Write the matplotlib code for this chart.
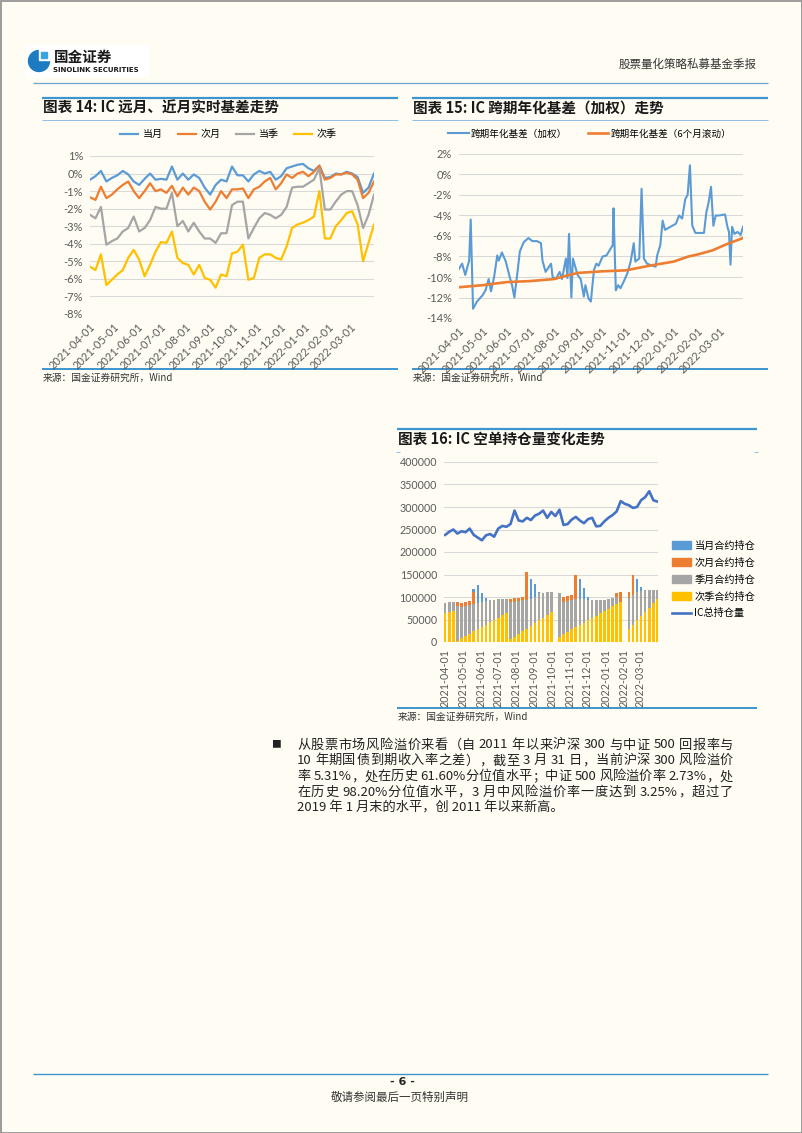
import re

import matplotlib
matplotlib.use('Agg')
import matplotlib.pyplot as plt
import matplotlib.dates as mdates
from matplotlib.patches import Rectangle, Circle, Patch
from matplotlib.lines import Line2D
from matplotlib.ticker import FuncFormatter
import pandas as pd

plt.rcParams['font.family'] = ['Noto Sans CJK SC', 'DejaVu Sans']

W, H = 802, 1133
BG = '#FFFDF3'
BLUE, ORANGE, GRAY, GOLD, DARK_BLUE = '#5B9BD5', '#ED7D31', '#A5A5A5', '#FFC000', '#4472C4'
RULE = '#3D95D0'

# ---- 图表14: weekly samples of the real-time basis (%) ----
basis_dates = pd.date_range('2021-04-01', periods=53, freq='7D')
cur_month = [-0.35, -0.15, 0.15, -0.45, -0.25, -0.1, 0.15, -0.05, -0.45, -0.65,
             -0.3, 0.0, -0.35, -0.3, -0.35, 0.4, -0.35, 0.0, -0.35, -0.05,
             -0.25, -0.8, -1.2, -0.65, -0.35, -0.45, 0.4, -0.1, -0.1, -0.45,
             -0.05, 0.15, 0.0, 0.1, -0.35, -0.15, 0.3, 0.4, 0.5, 0.55,
             0.3, 0.15, 0.45, -0.25, -0.2, 0.0, -0.05, 0.1, 0.0, -0.2,
             -1.1, -0.8, 0.0]
next_month = [-1.35, -1.5, -0.75, -1.4, -1.2, -0.9, -0.65, -0.45, -1.0, -1.4,
              -1.0, -0.55, -1.0, -0.9, -1.1, -0.7, -1.3, -0.8, -1.2, -0.8,
              -1.0, -1.6, -2.05, -1.6, -1.0, -1.4, -0.9, -0.9, -0.85, -1.4,
              -0.9, -0.75, -0.45, -0.25, -0.9, -0.55, -0.05, -0.25, 0.0, 0.1,
              -0.15, 0.1, 0.45, -0.35, -0.25, -0.05, -0.05, 0.05, -0.05, -0.35,
              -1.4, -1.1, -0.45]
cur_quarter = [-2.35, -2.55, -1.9, -4.05, -3.85, -3.7, -3.3, -3.1, -2.45, -3.3,
               -3.1, -2.65, -1.9, -2.0, -2.0, -1.1, -3.0, -2.7, -3.3, -2.8,
               -3.3, -3.7, -3.7, -3.95, -3.4, -3.4, -1.8, -1.6, -1.6, -3.7,
               -3.1, -2.55, -2.25, -2.35, -2.55, -2.35, -1.9, -0.8, -0.75, -0.75,
               -0.55, -0.35, 0.3, -2.05, -2.05, -1.6, -1.2, -1.0, -1.0, -1.8,
               -3.1, -2.35, -1.2]
next_quarter = [-5.3, -5.5, -4.6, -6.35, -6.05, -5.75, -5.5, -4.8, -4.35, -4.9,
                -5.85, -5.2, -4.45, -3.9, -3.95, -3.3, -4.8, -5.1, -5.2, -5.75,
                -5.2, -5.95, -6.05, -6.5, -5.75, -5.85, -4.55, -4.45, -4.05, -6.05,
                -5.95, -4.8, -4.6, -4.6, -4.8, -4.9, -4.15, -3.1, -2.9, -2.8,
                -2.65, -2.45, -1.0, -3.7, -3.7, -3.0, -2.65, -2.25, -2.15, -2.9,
                -5.0, -3.95, -2.9]

# ---- 图表15: annualised calendar basis (%) ----
weighted_dates = ['2021-04-01', '2021-04-05', '2021-04-09', '2021-04-14', '2021-04-16', '2021-04-19',
                  '2021-04-24', '2021-05-01', '2021-05-05', '2021-05-09', '2021-05-12', '2021-05-16',
                  '2021-05-20', '2021-05-22', '2021-05-26', '2021-05-31', '2021-06-05', '2021-06-08',
                  '2021-06-11', '2021-06-15', '2021-06-18', '2021-06-23', '2021-06-29', '2021-07-04',
                  '2021-07-10', '2021-07-15', '2021-07-17', '2021-07-21', '2021-07-28', '2021-07-30',
                  '2021-08-03', '2021-08-08', '2021-08-11', '2021-08-16', '2021-08-18', '2021-08-20',
                  '2021-08-23', '2021-08-25', '2021-08-31', '2021-09-04', '2021-09-08', '2021-09-10',
                  '2021-09-14', '2021-09-17', '2021-09-21', '2021-09-24', '2021-09-27', '2021-10-02',
                  '2021-10-07', '2021-10-11', '2021-10-15', '2021-10-16', '2021-10-19', '2021-10-22',
                  '2021-10-25', '2021-10-30', '2021-11-03', '2021-11-07', '2021-11-11', '2021-11-13',
                  '2021-11-18', '2021-11-21', '2021-11-24', '2021-11-28', '2021-12-05', '2021-12-09',
                  '2021-12-11', '2021-12-15', '2021-12-18', '2021-12-21', '2021-12-28', '2022-01-04',
                  '2022-01-08', '2022-01-12', '2022-01-16', '2022-01-19', '2022-01-22', '2022-01-25',
                  '2022-01-29', '2022-02-05', '2022-02-09', '2022-02-12', '2022-02-15', '2022-02-18',
                  '2022-02-21', '2022-02-24', '2022-02-28', '2022-03-08', '2022-03-11', '2022-03-13',
                  '2022-03-15', '2022-03-17', '2022-03-20', '2022-03-24', '2022-03-28', '2022-03-31']
weighted_basis = [-9.2, -8.7, -9.8, -8.4, -4.4, -13.1,
                  -12.4, -11.8, -11.3, -10.2, -11.4, -10.0,
                  -7.9, -8.4, -7.6, -8.5, -10.0, -10.8,
                  -12.0, -9.5, -7.5, -6.6, -6.2, -6.5,
                  -6.5, -6.7, -8.4, -9.5, -8.7, -10.0,
                  -10.2, -9.5, -10.2, -8.2, -10.1, -5.8,
                  -12.0, -8.2, -9.8, -10.2, -11.9, -10.8,
                  -12.1, -12.4, -9.3, -8.7, -8.9, -8.0,
                  -7.9, -7.4, -6.9, -3.3, -11.3, -10.8,
                  -11.1, -10.3, -9.6, -8.5, -6.7, -8.5,
                  -8.2, -1.4, -8.2, -8.7, -8.9, -9.0,
                  -7.9, -6.9, -4.5, -5.4, -5.1, -4.8,
                  -4.0, -4.3, -2.4, -2.0, 0.9, -5.0,
                  -5.7, -5.7, -5.7, -3.7, -2.7, -1.2,
                  -5.0, -4.0, -4.0, -3.9, -5.1, -5.6,
                  -8.8, -5.1, -5.8, -5.6, -5.9, -5.1]
rolling_dates = ['2021-04-01', '2021-05-01', '2021-06-01', '2021-07-01', '2021-08-01', '2021-08-20',
                 '2021-09-01', '2021-10-01', '2021-11-01', '2021-12-01', '2022-01-01', '2022-01-20',
                 '2022-02-01', '2022-02-20', '2022-03-10', '2022-03-31']
rolling_basis = [-11.0, -10.8, -10.5, -10.4, -10.2, -9.8,
                 -9.6, -9.45, -9.35, -8.9, -8.5, -8.0,
                 -7.8, -7.4, -6.8, -6.2]

# ---- 图表16: weekly open interest of short positions ----
oi_dates = pd.date_range('2021-04-01', periods=53, freq='7D')
oi_cur_month = [70000, 60000, 50000, 40000, 50000, 60000, 70000, 118000, 126000, 110000,
                98000, 60000, 60000, 65000, 70000, 80000, 85000, 85000, 85000, 88000,
                100000, 140000, 128000, 112000, 90000, 85000, 80000, 0, 80000, 85000,
                90000, 95000, 100000, 140000, 120000, 100000, 85000, 60000, 60000, 65000,
                70000, 75000, 85000, 90000, 0, 100000, 100000, 140000, 122000, 108000,
                95000, 80000, 70000]
oi_next_month = [60000, 62000, 64000, 88000, 87000, 89000, 92000, 112000, 30000, 20000,
                 25000, 35000, 45000, 55000, 65000, 78000, 96000, 98000, 97000, 99000,
                 155000, 40000, 50000, 60000, 70000, 80000, 85000, 0, 98000, 100000,
                 102000, 104000, 148000, 40000, 50000, 60000, 30000, 40000, 50000, 60000,
                 70000, 80000, 110000, 111000, 0, 112000, 148000, 50000, 60000, 70000,
                 80000, 85000, 90000]
oi_quarter = [86000, 88000, 90000, 80000, 78000, 80000, 82000, 84000, 86000, 90000,
              92000, 93000, 94000, 95000, 96000, 95000, 88000, 90000, 92000, 93000,
              94000, 96000, 100000, 108000, 110000, 111000, 112000, 0, 108000, 90000,
              92000, 94000, 96000, 96000, 95000, 94000, 93000, 93000, 93000, 94000,
              95000, 97000, 100000, 90000, 0, 98000, 105000, 112000, 114000, 115000,
              116000, 116000, 115000]
oi_next_quarter = [65000, 66000, 68000, 3000, 8000, 13000, 18000, 24000, 29000, 34000,
                   38000, 44000, 49000, 54000, 59000, 64000, 6000, 12000, 18000, 24000,
                   30000, 36000, 42000, 48000, 54000, 60000, 66000, 0, 12000, 17000,
                   22000, 28000, 33000, 38000, 43000, 48000, 53000, 58000, 64000, 69000,
                   74000, 79000, 84000, 89000, 0, 28000, 38000, 48000, 58000, 67000,
                   76000, 86000, 96000]
oi_total = [238000, 245000, 250000, 241000, 246000, 244000, 252000, 238000, 232000, 226000,
            237000, 240000, 234000, 252000, 258000, 256000, 262000, 292000, 270000, 268000,
            276000, 271000, 281000, 285000, 292000, 276000, 289000, 280000, 294000, 260000,
            262000, 272000, 278000, 270000, 264000, 273000, 276000, 257000, 258000, 268000,
            276000, 282000, 290000, 313000, 307000, 304000, 298000, 300000, 315000, 322000,
            335000, 315000, 312000]

month_ticks = pd.date_range('2021-04-01', '2022-03-01', freq='MS')

body_lines = [
    '从股票市场风险溢价来看（自 2011 年以来沪深 300 与中证 500 回报率与',
    '10 年期国债到期收入率之差），截至 3 月 31 日，当前沪深 300 风险溢价',
    '率 5.31%，处在历史 61.60%分位值水平；中证 500 风险溢价率 2.73%，处',
    '在历史 98.20%分位值水平，3 月中风险溢价率一度达到 3.25%，超过了',
    '2019 年 1 月末的水平，创 2011 年以来新高。',
]

fig = plt.figure(figsize=(W / 100, H / 100), dpi=100, facecolor=BG)
bg = fig.add_axes([0, 0, 1, 1])
bg.set_xlim(0, W)
bg.set_ylim(H, 0)
bg.axis('off')
renderer = fig.canvas.get_renderer()


def px_axes(left, top, right, bottom):
    return fig.add_axes([left / W, 1 - bottom / H, (right - left) / W, (bottom - top) / H])


def hline(x0, x1, y, color=RULE, lw=1.2):
    bg.plot([x0, x1], [y, y], color=color, lw=lw, solid_capstyle='butt')


def style_axes(ax, ylim, yticks, fmt, size=8):
    ax.set_facecolor('none')
    for s in ax.spines.values():
        s.set_visible(False)
    ax.set_ylim(*ylim)
    ax.set_yticks(yticks)
    ax.yaxis.set_major_formatter(FuncFormatter(fmt))
    ax.grid(axis='y', color='#D9D9D9', lw=0.8)
    ax.set_axisbelow(True)
    ax.set_xticks(month_ticks)
    ax.xaxis.set_major_formatter(mdates.DateFormatter('%Y-%m-%d'))
    ax.tick_params(length=0, labelsize=size, colors='#595959', pad=5)
    for lab in ax.get_xticklabels() + ax.get_yticklabels():
        lab.set_fontfamily('Lato')


def pct(v, _):
    return f'{v:.0f}%'


def justified(line, x0, x1, y, **kw):
    # lay a line out token by token so that it fills x0..x1 like the justified source text
    tokens = re.findall(r'[A-Za-z0-9.%]+| |.', line)
    words, gaps = [], []
    pending_space = False
    for tok in tokens:
        if tok == ' ':
            pending_space = True
            continue
        words.append(bg.text(0, y, tok, va='center', **kw))
        gaps.append(pending_space)
        pending_space = False
    widths = [t.get_window_extent(renderer).width for t in words]
    probe_a = bg.text(0, y, 'a a', **kw)
    probe_b = bg.text(0, y, 'aa', **kw)
    space_w = probe_a.get_window_extent(renderer).width - probe_b.get_window_extent(renderer).width
    probe_a.remove()
    probe_b.remove()
    natural = sum(widths) + space_w * sum(gaps)
    extra = (x1 - x0 - natural) / max(len(words) - 1, 1)
    x = x0
    for t, w, g in zip(words, widths, gaps):
        if g:
            x += space_w
        t.set_x(x)
        x += w + extra


# page frame and header
bg.add_patch(Rectangle((0.5, 0.5), W - 1, H - 1, fill=False, ec='#8C8C8C', lw=1.2))
bg.add_patch(Rectangle((26, 45), 122, 31, color='white', zorder=1))
bg.add_patch(Circle((39, 61), 10.5, color='#1D7CC1', zorder=2))
bg.add_patch(Rectangle((39, 48), 12, 11.5, color='white', zorder=3))
bg.add_patch(Rectangle((40.5, 51.5), 6, 6, color='#3BA4DE', zorder=4))
bg.text(54, 57, '国金证券', fontsize=10.5, fontweight='bold', color='#1A1A1A', va='center', zorder=5)
bg.text(53, 69.5, 'SINOLINK SECURITIES', fontsize=5, fontweight='bold', color='#1A1A1A',
        va='center', family='DejaVu Sans', zorder=5)
bg.text(757, 64, '股票量化策略私募基金季报', fontsize=8.3, color='#333333', ha='right', va='center')
hline(33, 768, 83, color='#6FA3D2', lw=0.9)

# section frames
for x0, x1 in [(42, 398), (412, 768)]:
    hline(x0, x1, 98, lw=1.6)
    hline(x0, x1, 120, color='#8DBFE3', lw=0.7)
    hline(x0, x1, 369, lw=1.4)
    bg.text(x0 + 1, 378, '来源：国金证券研究所，Wind', fontsize=7, color='#333333', va='center')
hline(397, 757, 429, lw=1.6)
hline(397, 757, 708, lw=1.4)
for xm in (398, 756):
    hline(xm - 2, xm + 2, 452, color='#8DBFE3', lw=0.7)
bg.text(398, 717, '来源：国金证券研究所，Wind', fontsize=7, color='#333333', va='center')

title_kw = dict(fontsize=10.5, fontweight='bold', fontstyle='italic', color='#1A1A1A', va='center')
bg.text(43, 107.5, '图表 14: IC 远月、近月实时基差走势', **title_kw)
bg.text(413, 107.5, '图表 15: IC 跨期年化基差（加权）走势', **title_kw)
bg.text(398, 438.5, '图表 16: IC 空单持仓量变化走势', **title_kw)

# chart 14
ax14 = px_axes(90, 156, 374, 314)
ax14.plot(basis_dates, cur_month, color=BLUE, lw=1.6, label='当月')
ax14.plot(basis_dates, next_month, color=ORANGE, lw=1.6, label='次月')
ax14.plot(basis_dates, cur_quarter, color=GRAY, lw=1.6, label='当季')
ax14.plot(basis_dates, next_quarter, color=GOLD, lw=1.6, label='次季')
ax14.set_xlim(pd.Timestamp('2021-04-01'), pd.Timestamp('2022-03-31'))
style_axes(ax14, (-8, 1), range(-8, 2), pct)
plt.setp(ax14.get_xticklabels(), rotation=45, ha='right', rotation_mode='anchor')
ax14.legend(loc='center', bbox_to_anchor=(228 / W, 1 - 134 / H), bbox_transform=fig.transFigure,
            ncol=4, frameon=False, fontsize=7.2, handlelength=1.85, handletextpad=0.45,
            columnspacing=1.5, borderpad=0)

# chart 15
ax15 = px_axes(459, 154, 743, 318)
ax15.plot(pd.to_datetime(weighted_dates), weighted_basis, color=BLUE, lw=1.5, label='跨期年化基差（加权）')
ax15.plot(pd.to_datetime(rolling_dates), rolling_basis, color=ORANGE, lw=1.9, label='跨期年化基差（6个月滚动）')
ax15.set_xlim(pd.Timestamp('2021-04-01'), pd.Timestamp('2022-03-31'))
style_axes(ax15, (-14, 2), range(-14, 3, 2), pct)
plt.setp(ax15.get_xticklabels(), rotation=45, ha='right', rotation_mode='anchor')
ax15.legend(loc='center', bbox_to_anchor=(590 / W, 1 - 134 / H), bbox_transform=fig.transFigure,
            ncol=2, frameon=False, fontsize=6.9, handlelength=2.1, handletextpad=0.25,
            columnspacing=2.2, borderpad=0)

# chart 16
ax16 = px_axes(444, 462, 658, 642)
bar_w = 4.5
ax16.bar(oi_dates, oi_cur_month, width=bar_w, color=BLUE, zorder=2)
ax16.bar(oi_dates, oi_next_month, width=bar_w, color=ORANGE, zorder=3)
ax16.bar(oi_dates, oi_quarter, width=bar_w, color=GRAY, zorder=4)
ax16.bar(oi_dates, oi_next_quarter, width=bar_w, color=GOLD, zorder=5)
ax16.plot(oi_dates, oi_total, color=DARK_BLUE, lw=1.9, zorder=6)
ax16.set_xlim(pd.Timestamp('2021-03-30'), pd.Timestamp('2022-04-01'))
style_axes(ax16, (0, 400000), range(0, 400001, 50000), lambda v, _: f'{v:.0f}', size=7.7)
plt.setp(ax16.get_xticklabels(), rotation=90)
handles = [Patch(color=BLUE, label='当月合约持仓'), Patch(color=ORANGE, label='次月合约持仓'),
           Patch(color=GRAY, label='季月合约持仓'), Patch(color=GOLD, label='次季合约持仓'),
           Line2D([], [], color=DARK_BLUE, lw=1.9, label='IC总持仓量')]
ax16.legend(handles=handles, loc='center left', bbox_to_anchor=(667 / W, 1 - 579.5 / H),
            bbox_transform=fig.transFigure, frameon=False, fontsize=7.3, handlelength=1.9,
            handleheight=0.75, handletextpad=0.3, labelspacing=0.68, borderpad=0)

# body text
bg.text(276, 744, '■', fontsize=7, color='#222222', ha='center', va='center')
for i, line in enumerate(body_lines):
    y = 745 + i * 15.8
    if i < len(body_lines) - 1:
        justified(line, 297, 733, y, fontsize=9.5, color='#222222')
    else:
        bg.text(297, y, line, fontsize=9.5, color='#222222', va='center')

# footer
hline(33, 768, 1074, color='#3D95D0', lw=1.0)
bg.text(402, 1082, '- 6 -', fontsize=8, fontweight='bold', color='#222222', ha='center', va='center',
        family='DejaVu Sans')
bg.text(400, 1097, '敬请参阅最后一页特别声明', fontsize=8.3, color='#333333', ha='center', va='center')

fig.savefig('out.png', dpi=100, facecolor=BG)
